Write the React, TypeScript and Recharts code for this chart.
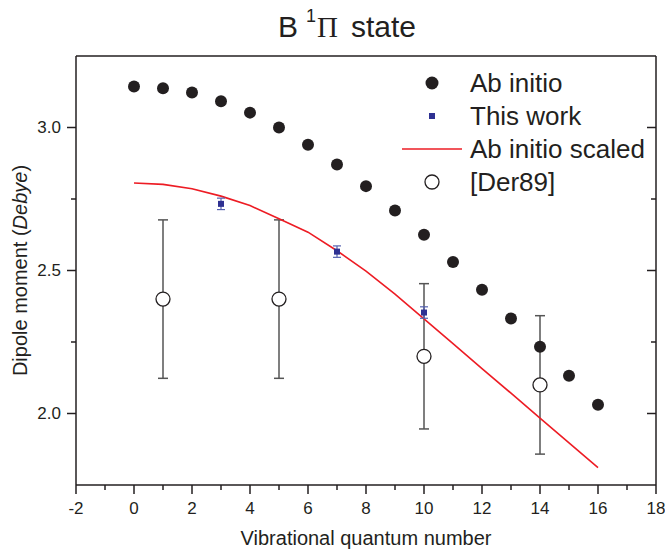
import { ComposedChart, XAxis, YAxis, Scatter, Line, ErrorBar, Legend } from 'recharts';

// Vibrational levels v = 0..16 for the ab initio curves
const levels = [0, 1, 2, 3, 4, 5, 6, 7, 8, 9, 10, 11, 12, 13, 14, 15, 16];
const abInitio = [3.143, 3.137, 3.122, 3.092, 3.052, 3.0, 2.94, 2.871, 2.795, 2.71, 2.625, 2.53, 2.433, 2.332, 2.233, 2.132, 2.031];
const abInitioScaled = [2.806, 2.801, 2.786, 2.76, 2.727, 2.681, 2.634, 2.569, 2.498, 2.417, 2.331, 2.244, 2.157, 2.071, 1.984, 1.897, 1.811];

// This work (with error bars)
const thisWorkLevels = [3, 7, 10];
const thisWork = [2.733, 2.566, 2.353];
const thisWorkErr = [0.02, 0.02, 0.02];

// [Der89] (with error bars)
const derLevels = [1, 5, 10, 14];
const der89 = [2.4, 2.4, 2.2, 2.1];
const der89Err = [0.277, 0.277, 0.254, 0.242];

const xTicks = [-2, -1, 0, 1, 2, 3, 4, 5, 6, 7, 8, 9, 10, 11, 12, 13, 14, 15, 16, 17, 18];
const yTicks = [2.0, 2.25, 2.5, 2.75, 3.0];

const ink = '#231f20';
const red = '#ed1c24';
const blue = '#2e3192';
const font = '"Liberation Sans", Arial, sans-serif';

const abInitioData = levels.map((x, i) => ({ x, y: abInitio[i] }));
const scaledData = levels.map((x, i) => ({ x, y: abInitioScaled[i] }));
const thisWorkData = thisWorkLevels.map((x, i) => ({ x, y: thisWork[i], err: thisWorkErr[i] }));
const derData = derLevels.map((x, i) => ({ x, y: der89[i], err: der89Err[i] }));

const isMajorY = (v: number) => Math.abs(v * 2 - Math.round(v * 2)) < 1e-6;

const BottomTick = ({ x, y, payload }: any) => {
  const major = payload.value % 2 === 0;
  return (
    <g>
      <line x1={x} x2={x} y1={y} y2={y + (major ? 9 : 5)} stroke={ink} strokeWidth={1.5} />
      {major && (
        <text x={x} y={y + 29} textAnchor="middle" fontSize={17} fill={ink}>
          {payload.value}
        </text>
      )}
    </g>
  );
};

const TopTick = ({ x, y, payload }: any) => {
  const major = payload.value % 2 === 0;
  return <line x1={x} x2={x} y1={y} y2={y + (major ? 9 : 5)} stroke={ink} strokeWidth={1.5} />;
};

const LeftTick = ({ x, y, payload }: any) => {
  const major = isMajorY(payload.value);
  return (
    <g>
      <line x1={x - (major ? 9 : 5)} x2={x} y1={y} y2={y} stroke={ink} strokeWidth={1.5} />
      {major && (
        <text x={x - 15} y={y} dy="0.35em" textAnchor="end" fontSize={17} fill={ink}>
          {payload.value.toFixed(1)}
        </text>
      )}
    </g>
  );
};

const RightTick = ({ x, y, payload }: any) => {
  const major = isMajorY(payload.value);
  return <line x1={x - (major ? 9 : 5)} x2={x} y1={y} y2={y} stroke={ink} strokeWidth={1.5} />;
};

const XTitle = ({ viewBox }: any) => (
  <text x={viewBox.x + viewBox.width / 2} y={viewBox.y + 60} textAnchor="middle" fontSize={20} fill={ink}>
    Vibrational quantum number
  </text>
);

const YTitle = ({ viewBox }: any) => {
  const cx = 27;
  const cy = viewBox.y + viewBox.height / 2;
  return (
    <text x={cx} y={cy} transform={`rotate(-90, ${cx}, ${cy})`} textAnchor="middle" fontSize={20} fill={ink}>
      Dipole moment (<tspan fontStyle="italic">Debye</tspan>)
    </text>
  );
};

const legendItems = ['Ab initio', 'This work', 'Ab initio scaled', '[Der89]'];

const LegendMarker = ({ name, cy }: { name: string; cy: number }) => {
  if (name === 'Ab initio') return <circle cx={37} cy={cy} r={6.5} fill={ink} />;
  if (name === 'This work') return <rect x={34} y={cy - 3} width={6} height={6} fill={blue} />;
  if (name === 'Ab initio scaled') return <line x1={7} x2={67} y1={cy} y2={cy} stroke={red} strokeWidth={1.5} />;
  return <circle cx={37} cy={cy} r={7} fill="#fff" stroke={ink} strokeWidth={1.3} />;
};

const renderLegend = () => (
  <svg width={262} height={140} style={{ display: 'block' }}>
    {legendItems.map((name, i) => {
      const cy = 19 + i * 33;
      return (
        <g key={name}>
          <LegendMarker name={name} cy={cy} />
          <text x={75} y={cy} dy="0.35em" fontSize={26} fill={ink} fontFamily={font}>
            {name}
          </text>
        </g>
      );
    })}
  </svg>
);

const Dot = ({ cx, cy }: any) => <circle cx={cx} cy={cy} r={6} fill={ink} />;
const Square = ({ cx, cy }: any) => <rect x={cx - 3} y={cy - 3} width={6} height={6} fill={blue} />;
const OpenCircle = ({ cx, cy }: any) => <circle cx={cx} cy={cy} r={7} fill="#fff" stroke={ink} strokeWidth={1.3} />;

export default function App() {
  return (
    <div style={{ position: 'absolute', left: 0, top: 0, width: 665, height: 553, background: '#fff' }}>
      <ComposedChart width={665} height={553} margin={{ top: 0, right: 0, bottom: 0, left: 0 }} style={{ fontFamily: font }}>
        <XAxis
          xAxisId={0}
          type="number"
          dataKey="x"
          domain={[-2, 18]}
          ticks={xTicks}
          interval={0}
          allowDataOverflow
          height={68}
          tickSize={0}
          tickMargin={0}
          tickLine={false}
          tick={(p: any) => <BottomTick {...p} />}
          axisLine={{ stroke: ink, strokeWidth: 1.5 }}
          label={(p: any) => <XTitle {...p} />}
        />
        <XAxis
          xAxisId="t"
          orientation="top"
          type="number"
          domain={[-2, 18]}
          ticks={xTicks}
          interval={0}
          allowDataOverflow
          height={56}
          tickSize={0}
          tickMargin={0}
          tickLine={false}
          tick={(p: any) => <TopTick {...p} />}
          axisLine={{ stroke: ink, strokeWidth: 1.5 }}
        />
        <YAxis
          yAxisId={0}
          type="number"
          domain={[1.75, 3.25]}
          ticks={yTicks}
          interval={0}
          allowDataOverflow
          width={76}
          tickSize={0}
          tickMargin={0}
          tickLine={false}
          tick={(p: any) => <LeftTick {...p} />}
          axisLine={{ stroke: ink, strokeWidth: 1.5 }}
          label={(p: any) => <YTitle {...p} />}
        />
        <YAxis
          yAxisId="r"
          orientation="right"
          type="number"
          domain={[1.75, 3.25]}
          ticks={yTicks}
          interval={0}
          allowDataOverflow
          width={9}
          tickSize={0}
          tickMargin={0}
          tickLine={false}
          tick={(p: any) => <RightTick {...p} />}
          axisLine={{ stroke: ink, strokeWidth: 1.5 }}
        />
        <Legend
          content={renderLegend}
          layout="vertical"
          align="center"
          verticalAlign="middle"
          wrapperStyle={{ left: 395, top: 64, width: 262 }}
        />
        <Scatter name="Ab initio" data={abInitioData} dataKey="y" shape={<Dot />} isAnimationActive={false} />
        <Scatter name="[Der89]" data={derData} dataKey="y" shape={<OpenCircle />} isAnimationActive={false}>
          <ErrorBar dataKey="err" direction="y" width={5} stroke="#555" strokeWidth={1.5} />
        </Scatter>
        <Line
          name="Ab initio scaled"
          data={scaledData}
          dataKey="y"
          type="linear"
          stroke={red}
          strokeWidth={1.6}
          dot={false}
          activeDot={false}
          isAnimationActive={false}
        />
        <Scatter name="This work" data={thisWorkData} dataKey="y" shape={<Square />} isAnimationActive={false}>
          <ErrorBar dataKey="err" direction="y" width={4} stroke="#5461b0" strokeWidth={1.2} />
        </Scatter>
      </ComposedChart>
      <svg width={665} height={50} style={{ position: 'absolute', left: 0, top: 0, pointerEvents: 'none' }}>
        <text x={278} y={37} fontSize={30} fill={ink} fontFamily={font}>B</text>
        <text x={306} y={22} fontSize={18} fill={ink} fontFamily={font}>1</text>
        <text x={317} y={37} fontSize={29} fill={ink} fontFamily='"Liberation Serif", serif'>Π</text>
        <text x={351} y={37} fontSize={30} fill={ink} fontFamily={font}>state</text>
      </svg>
    </div>
  );
}
